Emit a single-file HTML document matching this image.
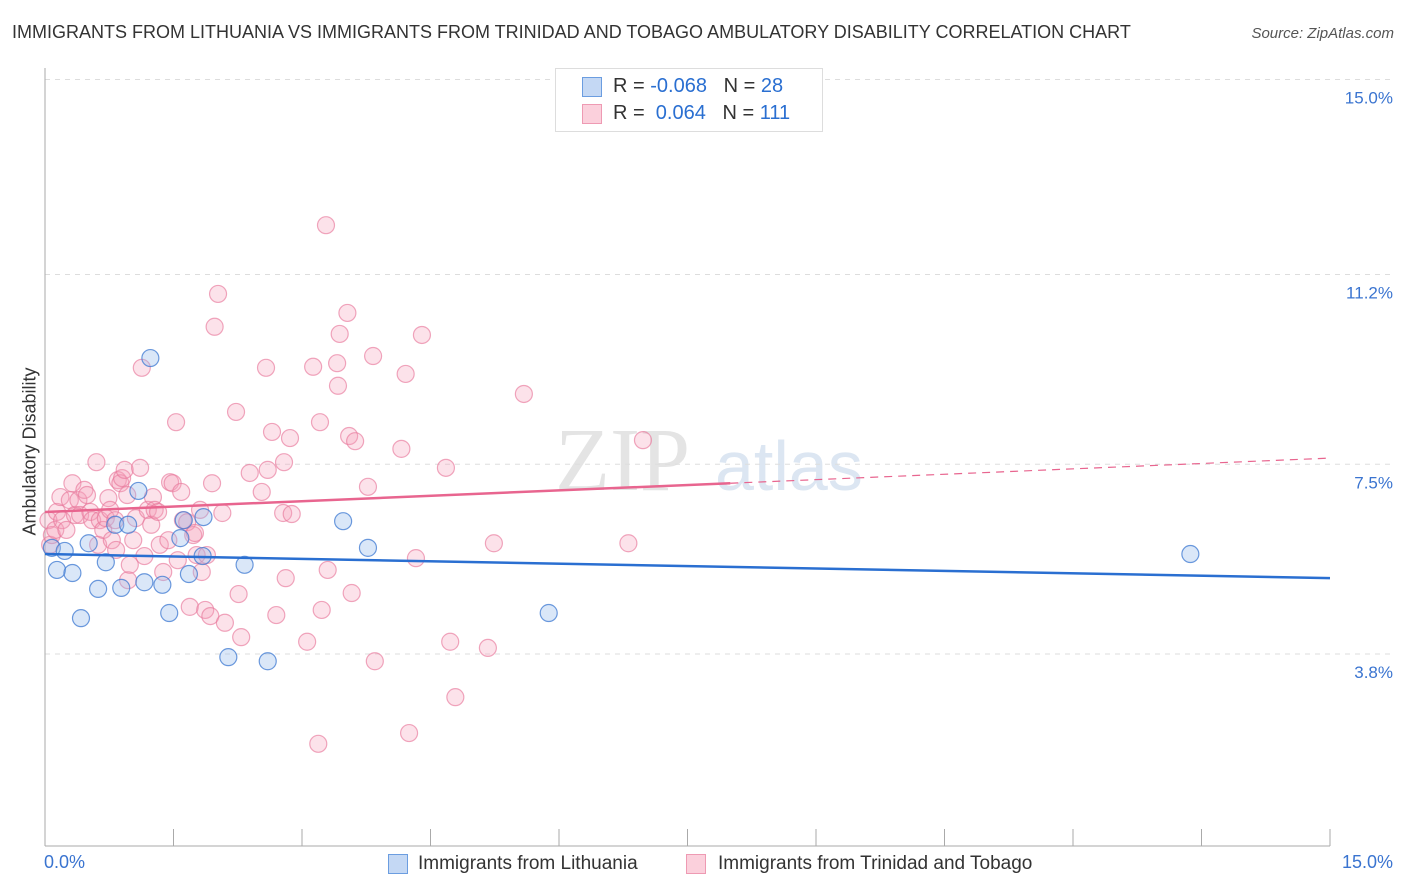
<!DOCTYPE html>
<html><head><meta charset="utf-8"><style>
body{margin:0;background:#fff;font-family:"Liberation Sans",sans-serif;}
#wrap{position:relative;width:1406px;height:892px;overflow:hidden;}
.t{position:absolute;white-space:nowrap;}
</style></head><body>
<div id="wrap">
<div class="t" style="left:12px;top:22px;font-size:18px;color:#333;">IMMIGRANTS FROM LITHUANIA VS IMMIGRANTS FROM TRINIDAD AND TOBAGO AMBULATORY DISABILITY CORRELATION CHART</div>
<div class="t" style="right:12px;top:25px;font-size:15px;color:#555;font-style:italic;">Source: ZipAtlas.com</div>
<svg id="svg" width="1406" height="892" style="position:absolute;left:0;top:0"></svg>
</div>
<script>
const yTicks=[3.8,7.5,11.2,15.0];
const yTickLabels=["3.8%","7.5%","11.2%","15.0%"];
const xTicks=[0,1.5,3,4.5,6,7.5,9,10.5,12,13.5,15];
const blueX=[.08,.14,.23,.32,.42,.51,.62,.71,.82,.89,.97,1.16,1.09,1.23,1.37,1.45,1.58,1.62,1.68,1.85,1.84,2.14,2.33,2.60,3.48,3.77,5.88,13.37];
const blueY=[5.87,5.44,5.81,5.38,4.50,5.96,5.07,5.59,6.32,5.09,6.32,5.20,6.98,9.57,5.15,4.60,6.06,6.41,5.36,6.47,5.71,3.74,5.54,3.66,6.39,5.87,4.60,5.75];
const pinkX=[.04,.06,.08,.12,.14,.18,.20,.25,.29,.32,.35,.39,.41,.46,.49,.53,.55,.60,.62,.64,.68,.71,.74,.76,.78,.82,.83,.85,.88,.90,.93,.96,.97,.99,1.03,1.06,1.11,1.13,1.16,1.20,1.24,1.26,1.28,1.32,1.34,1.38,1.44,1.46,1.49,1.53,1.55,1.59,1.61,1.66,1.69,1.73,1.75,1.77,1.81,1.83,1.87,1.89,1.93,1.95,1.98,2.02,2.07,2.10,2.23,2.26,2.29,2.39,2.53,2.58,2.60,2.65,2.70,2.78,2.79,2.81,2.86,2.88,3.06,3.13,3.19,3.21,3.23,3.28,3.30,3.41,3.42,3.44,3.53,3.55,3.58,3.62,3.77,3.83,3.85,4.16,4.21,4.25,4.33,4.40,4.68,4.73,4.79,5.17,5.24,5.59,6.81,6.98];
const pinkY=[6.41,5.93,6.12,6.22,6.57,6.86,6.41,6.22,6.80,7.13,6.51,6.80,6.51,7.00,6.90,6.57,6.41,7.54,5.93,6.41,6.22,6.45,6.84,6.61,6.02,6.41,5.83,7.19,7.13,7.23,7.39,6.90,5.24,5.54,6.02,6.45,7.43,9.38,5.71,6.61,6.32,6.86,6.61,6.57,5.93,5.40,6.02,7.15,7.13,8.32,5.63,6.96,6.41,6.37,4.72,6.12,6.16,5.73,6.61,5.40,4.66,5.73,4.54,7.13,10.18,10.82,6.55,4.41,8.52,4.97,4.13,7.33,6.96,9.38,7.39,8.13,4.56,6.55,7.54,5.28,8.01,6.53,4.04,9.40,2.05,8.32,4.66,12.16,5.44,9.47,9.03,10.04,10.45,8.05,4.99,7.95,7.06,9.61,3.66,7.80,9.26,2.26,5.67,10.02,7.43,4.04,2.96,3.92,5.96,8.87,5.96,7.97];
const blueTrend=[5.75,5.28];
const pinkTrend=[6.57,7.62];
const pinkSolidEnd=8.0;
const NS="http://www.w3.org/2000/svg";
const svg=document.getElementById('svg');
const X=v=>45+v*(1330-45)/15;
const Y=v=>849-v*51.3;
function mk(tag,attrs){const e=document.createElementNS(NS,tag);for(const k in attrs)e.setAttribute(k,attrs[k]);svg.appendChild(e);return e;}
// watermark
let wm=mk('text',{x:555,y:490,'font-size':90,fill:'#e4e4e4','font-family':'Liberation Serif, serif'});wm.textContent='ZIP';


let wm2=mk('text',{x:715,y:490,'font-size':70,fill:'#dce6f2','font-family':'Liberation Sans, sans-serif'});wm2.textContent='atlas';


yTicks.forEach((t,i)=>{
 const g=mk('line',{x1:45,x2:1393,y1:Y(t),y2:Y(t),stroke:'#ddd','stroke-dasharray':'5,5'});
 
 
 const l=mk('text',{x:1393,y:Y(t)+24,'text-anchor':'end','font-size':17,fill:'#3a74d0','font-family':'Liberation Sans, sans-serif'});
 l.textContent=yTickLabels[i];
 
 
});
const ax=mk('line',{x1:45,x2:45,y1:68,y2:846,stroke:'#aaa'});


const bx=mk('line',{x1:45,x2:1330,y1:846,y2:846,stroke:'#aaa'});


xTicks.forEach(t=>{const k=mk('line',{x1:X(t),x2:X(t),y1:829,y2:846,stroke:'#aaa'});
 
 });
function dots(xs,ys,fill,stroke,name){xs.forEach((x,i)=>{const c=mk('circle',{cx:X(x),cy:Y(ys[i]),r:8.5,fill:fill,stroke:stroke,'stroke-width':1.2});
 
 });}
dots(pinkX,pinkY,'rgba(244,160,185,0.3)','rgba(232,120,155,0.65)','pink-point');
dots(blueX,blueY,'rgba(150,185,235,0.35)','rgba(60,120,210,0.75)','blue-point');
const lt=v=>pinkTrend[0]+(pinkTrend[1]-pinkTrend[0])*v/15;
let p1=mk('line',{x1:X(0),y1:Y(pinkTrend[0]),x2:X(pinkSolidEnd),y2:Y(lt(pinkSolidEnd)),stroke:'#e8658f','stroke-width':2.5});


let p2=mk('line',{x1:X(pinkSolidEnd),y1:Y(lt(pinkSolidEnd)),x2:X(15),y2:Y(pinkTrend[1]),stroke:'#e8658f','stroke-width':1.2,'stroke-dasharray':'8,6'});


let b1=mk('line',{x1:X(0),y1:Y(blueTrend[0]),x2:X(15),y2:Y(blueTrend[1]),stroke:'#2a6fd1','stroke-width':2.5});


</script>
<div class="t" style="left:555px;top:68px;width:266px;height:62px;border:1px solid #ddd;background:#fff;">
 <div style="position:absolute;left:26px;top:8px;width:18px;height:18px;background:#c4d8f4;border:1px solid #6b9de0;"></div>
 <div class="t" style="left:57px;top:6px;font-size:20px;color:#333;">R = <span style="color:#2a6fd1">-0.068</span>&nbsp;&nbsp;&nbsp;N = <span style="color:#2a6fd1">28</span></div>
 <div style="position:absolute;left:26px;top:35px;width:18px;height:18px;background:#fbd0dc;border:1px solid #ee9ab3;"></div>
 <div class="t" style="left:57px;top:33px;font-size:20px;color:#333;">R = &nbsp;<span style="color:#2a6fd1">0.064</span>&nbsp;&nbsp;&nbsp;N = <span style="color:#2a6fd1">111</span></div>
</div>
<div class="t" style="left:44px;top:852px;font-size:18px;color:#3a74d0;">0.0%</div>
<div class="t" style="right:13px;top:852px;font-size:18px;color:#3a74d0;">15.0%</div>
<div class="t" style="left:-50px;top:445px;font-size:18px;color:#333;transform:rotate(-90deg);width:160px;text-align:center;">Ambulatory Disability</div>
<div style="position:absolute;left:388px;top:854px;width:18px;height:18px;background:#c4d8f4;border:1px solid #6b9de0;"></div>
<div class="t" style="left:418px;top:853px;font-size:19px;color:#333;">Immigrants from Lithuania</div>
<div style="position:absolute;left:686px;top:854px;width:18px;height:18px;background:#fbd0dc;border:1px solid #ee9ab3;"></div>
<div class="t" style="left:718px;top:853px;font-size:19px;color:#333;">Immigrants from Trinidad and Tobago</div>
</body></html>
